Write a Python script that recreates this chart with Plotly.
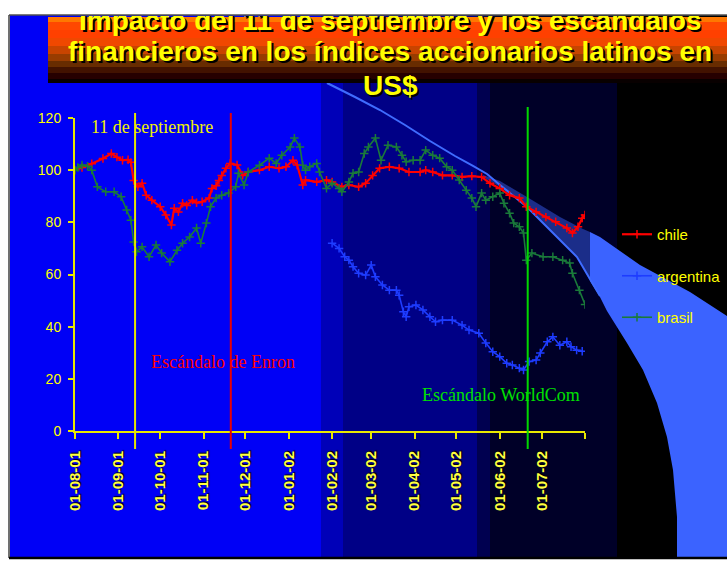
import plotly.graph_objects as go

# ---------------- data ----------------
chile_dates = ["2001-08-01","2001-08-06","2001-08-13","2001-08-21","2001-08-27","2001-08-31",
               "2001-09-04","2001-09-08","2001-09-10","2001-09-12","2001-09-15","2001-09-18","2001-09-21","2001-09-25",
               "2001-10-01","2001-10-05","2001-10-09","2001-10-11","2001-10-14","2001-10-17","2001-10-20","2001-10-24","2001-10-27","2001-10-31",
               "2001-11-05","2001-11-07","2001-11-10","2001-11-12","2001-11-14","2001-11-17","2001-11-20","2001-11-25","2001-11-29",
               "2001-12-03","2001-12-11","2001-12-18","2001-12-25","2001-12-30",
               "2002-01-04","2002-01-07","2002-01-11","2002-01-13","2002-01-21","2002-01-28",
               "2002-02-01","2002-02-08","2002-02-13","2002-02-20","2002-02-25",
               "2002-03-02","2002-03-07","2002-03-14","2002-03-21","2002-03-28",
               "2002-04-05","2002-04-09","2002-04-14","2002-04-21","2002-04-28",
               "2002-05-05","2002-05-12","2002-05-19","2002-05-25",
               "2002-06-01","2002-06-08","2002-06-15","2002-06-20","2002-06-27",
               "2002-07-04","2002-07-11","2002-07-19","2002-07-23","2002-07-27","2002-07-30","2002-08-01"]
chile_vals = [100,101,102.5,104.5,106.4,105,
              103.8,104,103,96,93.6,95,90.4,88.5,
              86,82.8,79,85.4,84,87.3,86.5,88.5,87.5,87.9,
              89.3,93,94,96,98,100.7,102.6,102,98,
              99.3,100,101.3,100.7,101.3,
              103.8,102,94.3,96.2,95.5,96.2,
              95.5,93.6,94.3,93.6,95,
              98,100.7,101.3,100.7,99.3,
              99.3,100,99.3,98,98,
              97.4,97.7,97.4,95,
              93,90.4,89.3,86,84,
              82,80.2,77.8,75.9,78.3,81.6,82.8]

brasil_dates = ["2001-08-01","2001-08-03","2001-08-06","2001-08-10","2001-08-13","2001-08-17","2001-08-23","2001-08-29",
                "2001-09-03","2001-09-07","2001-09-10","2001-09-12","2001-09-14","2001-09-18","2001-09-23","2001-09-28",
                "2001-10-02","2001-10-08","2001-10-13","2001-10-17","2001-10-22","2001-10-27","2001-10-30",
                "2001-11-03","2001-11-06","2001-11-10","2001-11-14","2001-11-19","2001-11-24","2001-11-26","2001-11-30",
                "2001-12-03","2001-12-11","2001-12-18","2001-12-23","2001-12-27",
                "2002-01-02","2002-01-05","2002-01-09","2002-01-11","2002-01-13","2002-01-16","2002-01-21","2002-01-23","2002-01-28",
                "2002-02-01","2002-02-06","2002-02-08","2002-02-13","2002-02-16","2002-02-20","2002-02-24","2002-02-27",
                "2002-03-04","2002-03-08","2002-03-13","2002-03-19","2002-03-23","2002-03-26","2002-03-31",
                "2002-04-05","2002-04-09","2002-04-14","2002-04-19","2002-04-24","2002-04-28",
                "2002-05-03","2002-05-08","2002-05-12","2002-05-15","2002-05-19","2002-05-22","2002-05-27",
                "2002-06-01","2002-06-04","2002-06-08","2002-06-11","2002-06-15","2002-06-18","2002-06-20","2002-06-24",
                "2002-07-02","2002-07-09","2002-07-16","2002-07-21","2002-07-23","2002-07-28","2002-08-01"]
brasil_vals = [100,101,102,101.5,100,93.6,91.7,91.7,
               89.8,84.7,80.8,72.5,68.7,70.6,66.8,71.3,
               68.2,64.9,69.3,72,74.4,77.8,72,
               79.7,86,89.3,90.4,91.2,93.6,98.8,94.3,
               99.3,101.9,104.6,102.6,105.7,
               108.9,112.3,108.9,101.9,100,101.3,102.6,99.3,93,
               95,93,91.7,95.5,98.8,99.3,106.4,108.9,
               112.3,103.8,109.6,108.9,105.7,103.2,103.8,
               103.8,107.7,105.7,104.6,101.3,100,
               96.2,92.3,89.3,86,91.2,88.5,89.8,
               91.2,87.3,83.5,79.7,78.3,75.9,65.5,68.2,
               66.8,66.8,65.5,64.4,60.5,54,48.5]

argentina_dates = ["2002-02-01","2002-02-06","2002-02-10","2002-02-13","2002-02-16","2002-02-20","2002-02-25",
                   "2002-03-01","2002-03-04","2002-03-09","2002-03-14","2002-03-19","2002-03-21","2002-03-24","2002-03-26","2002-03-28",
                   "2002-04-02","2002-04-07","2002-04-12","2002-04-16","2002-04-21","2002-04-28",
                   "2002-05-05","2002-05-10","2002-05-17","2002-05-22","2002-05-27",
                   "2002-06-01","2002-06-06","2002-06-10","2002-06-15","2002-06-18","2002-06-22","2002-06-27","2002-06-30",
                   "2002-07-05","2002-07-09","2002-07-14","2002-07-19","2002-07-22","2002-07-26","2002-07-30"]
argentina_vals = [72,70,66.8,65.5,63,60.5,59.8,
                  63.6,59.1,56,54,54,52,45.7,43.8,47.6,
                  48.3,46.4,43.8,41.9,42.5,42.5,
                  40.6,38.7,37.5,33.7,30.4,
                  28.5,26,25.3,24.1,23.4,26.6,27.2,29.9,
                  34.2,36.1,32.9,34.2,32.3,31,30.6]

tick_dates = ["2001-08-01","2001-09-01","2001-10-01","2001-11-01","2001-12-01","2002-01-01","2002-02-01",
              "2002-03-01","2002-04-01","2002-05-01","2002-06-01","2002-07-01","2002-08-01"]
tick_labels = ["01-08-01","01-09-01","01-10-01","01-11-01","01-12-01","01-01-02","01-02-02",
               "01-03-02","01-04-02","01-05-02","01-06-02","01-07-02",""]

event_dates = ["2001-09-13", "2001-11-20 12:00", "2002-06-21"]
event_labels = ["11 de septiembre", "Escándalo de Enron", "Escándalo WorldCom"]
event_label_dates = ["2001-09-25", "2001-11-15", "2002-06-02"]
event_label_vals = [116.4, 26.5, 13.8]

title_lines = ["Impacto del 11 de septiembre y los escándalos",
               "financieros en los índices accionarios latinos en",
               "US$"]

# ---------------- layout helpers ----------------
W, H = 727, 563
L, R, T, B = 75, 142, 118, 132
PW = W - L - R
PH = H - T - B
BASE = H - B

def px(x):
    return (x - L) / PW

def py(y):
    return (BASE - y) / PH

def path(points, close=True):
    s = "M " + " L ".join(f"{px(x):.5f},{py(y):.5f}" for x, y in points)
    return s + (" Z" if close else "")

shapes = []

def rect(x0, y0, x1, y1, color):
    shapes.append(dict(type="rect", xref="paper", yref="paper", layer="below",
                       x0=px(x0), x1=px(x1), y0=py(y1), y1=py(y0),
                       fillcolor=color, line=dict(width=0)))

# slide background (stepped gradient)
rect(10, 15, 727, 557, "#0000f6")
rect(321, 15, 343, 557, "#0000b8")
rect(343, 15, 477, 557, "#000086")
rect(477, 15, 490, 557, "#000050")
rect(490, 15, 617, 557, "#000028")
rect(617, 15, 727, 557, "#000000")

# swoosh band
band_left = [(483, 175), (500, 181), (527, 197), (560, 217), (583, 229), (590, 232),
             (590, 281), (577, 257), (553, 233), (527, 207), (500, 187), (483, 177)]
band_right = [(590, 232), (600, 237), (640, 265), (690, 292), (727, 316), (727, 557),
              (677, 557), (677, 517), (673, 470), (667, 437), (657, 403), (643, 370),
              (627, 343), (607, 311), (600, 297), (590, 281)]
shapes.append(dict(type="path", xref="paper", yref="paper", layer="below",
                   path=path(band_left), fillcolor="rgba(60,100,255,0.45)", line=dict(width=0)))
shapes.append(dict(type="path", xref="paper", yref="paper", layer="below",
                   path=path(band_right), fillcolor="#3b63ff", line=dict(width=0)))
swoosh = [(327, 83), (355, 97), (380, 110), (405, 125), (430, 141), (455, 156), (473, 166),
          (487, 174), (500, 185), (527, 207), (553, 233), (577, 257), (600, 296)]
shapes.append(dict(type="path", xref="paper", yref="paper", layer="below",
                   path=path(swoosh, close=False), line=dict(color="#3f6cff", width=2)))

# title bar (stepped fire gradient)
bar = [(17, 22, "#ff7800"), (22, 30, "#ff4800"), (30, 38, "#ff4000"), (38, 46, "#f04800"),
       (46, 54, "#c84400"), (54, 61, "#983c00"), (61, 67, "#682c00"), (67, 73, "#421200"),
       (73, 79, "#260000"), (79, 83, "#080000")]
for y0, y1, c in bar:
    rect(48, y0, 727, y1, c)

# slide frame
shapes.append(dict(type="line", xref="paper", yref="paper", layer="below",
                   x0=px(9), x1=px(727), y0=py(15), y1=py(15), line=dict(color="#505050", width=1.5)))
shapes.append(dict(type="line", xref="paper", yref="paper", layer="below",
                   x0=px(9), x1=px(9), y0=py(15), y1=py(558), line=dict(color="#404040", width=1.5)))
shapes.append(dict(type="line", xref="paper", yref="paper", layer="below",
                   x0=px(9), x1=px(727), y0=py(558), y1=py(558), line=dict(color="#000000", width=2.5)))

# event lines
event_colors = ["#e6e600", "#e80000", "#00d800"]
event_tops = [113, 113, 107]
for d, c, top in zip(event_dates, event_colors, event_tops):
    shapes.append(dict(type="line", xref="x", yref="paper", layer="above",
                       x0=d, x1=d, y0=py(449), y1=py(top), line=dict(color=c, width=2)))

# ---------------- figure ----------------
fig = go.Figure()
series = [("chile", chile_dates, chile_vals, "#ff0000", 2.2),
          ("argentina", argentina_dates, argentina_vals, "#1e3cff", 1.6),
          ("brasil", brasil_dates, brasil_vals, "#1a7a3a", 1.6)]
for name, xs, ys, col, lw in series:
    fig.add_trace(go.Scatter(
        x=xs, y=ys, name=name, mode="lines+markers", legendgroup=name,
        line=dict(color=col, width=lw),
        marker=dict(symbol="cross-thin", size=6, color=col, line=dict(color=col, width=1.5)),
    ))

annotations = []
ev_text_colors = ["#f0f000", "#ff0000", "#00e000"]
for txt, d, v, c in zip(event_labels, event_label_dates, event_label_vals, ev_text_colors):
    annotations.append(dict(text=txt, x=d, y=v, xref="x", yref="y", showarrow=False,
                            xanchor="center", yanchor="middle",
                            font=dict(family="Liberation Serif", size=18, color=c)))

title_font = dict(family="Liberation Sans", size=28, color="#ffff00",
                  weight="bold", shadow="2px 2px 0px #000000")
# first line: its top is cut off by the slide's upper edge (clipped text box)
annotations.append(dict(text=title_lines[0], x=px(390), y=py(15), xref="paper", yref="paper",
                        showarrow=False, xanchor="center", yanchor="top",
                        height=20, valign="bottom", borderpad=0,
                        font=title_font))
for txt, yy in zip(title_lines[1:], [52, 85]):
    annotations.append(dict(text=txt, x=px(390), y=py(yy), xref="paper", yref="paper",
                            showarrow=False, xanchor="center", yanchor="middle",
                            font=title_font))

fig.update_layout(
    width=W, height=H,
    margin=dict(l=L, r=R, t=T, b=B, pad=0, autoexpand=False),
    paper_bgcolor="#ffffff",
    plot_bgcolor="rgba(0,0,0,0)",
    shapes=shapes,
    annotations=annotations,
    showlegend=True,
    legend=dict(x=px(617), y=py(218), xanchor="left", yanchor="top",
                bgcolor="rgba(0,0,0,0)", borderwidth=0, tracegroupgap=19,
                font=dict(family="Liberation Sans", size=15, color="#ffff00")),
    xaxis=dict(type="date", range=["2001-08-01", "2002-08-01"],
               tickmode="array", tickvals=tick_dates, ticktext=tick_labels,
               tickangle=-90, ticks="outside", ticklen=6, tickwidth=2, tickcolor="#e8e800",
               showline=True, linecolor="#e8e800", linewidth=2, showgrid=False, zeroline=False,
               ticklabelstandoff=6,
               tickfont=dict(family="Liberation Sans", size=15, color="#ffff40", weight="bold",
                             shadow="1px 1px 1px #000000")),
    yaxis=dict(range=[0, 120], tickmode="array", tickvals=[0, 20, 40, 60, 80, 100, 120],
               ticks="outside", ticklen=5, tickwidth=2, tickcolor="#e8e800",
               showline=True, linecolor="#e8e800", linewidth=2, showgrid=False, zeroline=False,
               ticklabelstandoff=4,
               tickfont=dict(family="Liberation Sans", size=14, color="#ffff00")),
)

fig.write_html("out.html")
